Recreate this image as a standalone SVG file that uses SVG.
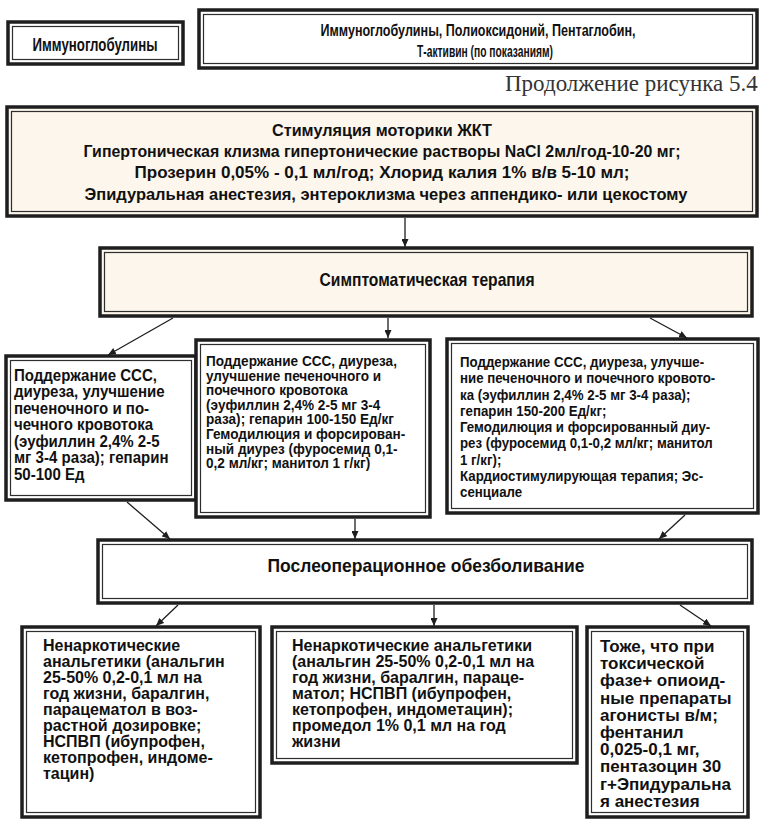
<svg xmlns="http://www.w3.org/2000/svg" width="765" height="819" viewBox="0 0 765 819">
<style>
.ob{fill:#fff;stroke:#1e1e1e;stroke-width:3.5}
.obc{fill:#fcf6ec;stroke:#1e1e1e;stroke-width:3.5}
.ib{fill:none;stroke:#2e2e2e;stroke-width:1.2}
.t{font-family:"Liberation Sans",Arial,sans-serif;font-weight:bold;fill:#111}
.tc{text-anchor:middle}
.cap{font-family:"Liberation Serif","Times New Roman",serif;font-size:23px;fill:#333}
.conn line{stroke:#1e1e1e;stroke-width:1.3;marker-end:url(#ah)}
</style>
<defs>
<marker id="ah" markerUnits="userSpaceOnUse" markerWidth="9" markerHeight="7" refX="8" refY="3.5" orient="auto">
<path d="M0,0 L8,3.5 L0,7 z" fill="#1e1e1e"/>
</marker>
<clipPath id="capclip"><rect x="480" y="76" width="300" height="30"/></clipPath>
</defs>
<rect width="765" height="819" fill="#fff"/>

<g id="node-immuno">
<rect class="ob" x="8" y="22" width="175" height="42"/>
<rect class="ib" x="12.5" y="26.5" width="166" height="33"/>
<text class="t tc" x="95" y="50.5" font-size="18.5" textLength="125" lengthAdjust="spacingAndGlyphs">Иммуноглобулины</text>
</g>

<g id="node-immuno2">
<rect class="ob" x="199" y="10" width="558" height="58"/>
<rect class="ib" x="203.5" y="14.5" width="549" height="49"/>
<text class="t tc" x="478" y="36" font-size="17" textLength="315" lengthAdjust="spacingAndGlyphs">Иммуноглобулины, Полиоксидоний, Пентаглобин,</text>
<text class="t tc" x="485" y="57" font-size="17" textLength="136" lengthAdjust="spacingAndGlyphs">Т-активин (по показаниям)</text>
</g>

<text class="cap" x="505" y="91" clip-path="url(#capclip)">Продолжение рисунка 5.4</text>

<g id="node-motor">
<rect class="obc" x="7" y="107" width="750" height="109"/>
<rect class="ib" x="11.5" y="111.5" width="741" height="100"/>
<text class="t tc" x="382" y="136" font-size="17" textLength="220" lengthAdjust="spacingAndGlyphs">Стимуляция моторики ЖКТ</text>
<text class="t tc" x="382" y="157" font-size="17" textLength="597" lengthAdjust="spacingAndGlyphs">Гипертоническая клизма гипертонические растворы NaCl 2мл/год-10-20 мг;</text>
<text class="t tc" x="382" y="178" font-size="17" textLength="495" lengthAdjust="spacingAndGlyphs">Прозерин 0,05% - 0,1 мл/год; Хлорид калия 1% в/в 5-10 мл;</text>
<text class="t tc" x="386" y="200" font-size="17" textLength="603" lengthAdjust="spacingAndGlyphs">Эпидуральная анестезия, энтероклизма через аппендико- или цекостому</text>
</g>

<g id="node-sympt">
<rect class="obc" x="100" y="248" width="652" height="68"/>
<rect class="ib" x="104.5" y="252.5" width="643" height="59"/>
<text class="t tc" x="427" y="286" font-size="18.5" textLength="215" lengthAdjust="spacingAndGlyphs">Симптоматическая терапия</text>
</g>

<g id="node-ccs1">
<rect class="ob" x="6" y="356" width="190" height="144"/>
<rect class="ib" x="10.5" y="360.5" width="181" height="135"/>
<text class="t" font-size="16" transform="translate(14,381) scale(0.94,1)">
<tspan x="0" dy="0">Поддержание ССС,</tspan>
<tspan x="0" dy="16.5">диуреза, улучшение</tspan>
<tspan x="0" dy="16.5">печеночного и по-</tspan>
<tspan x="0" dy="16.5">чечного кровотока</tspan>
<tspan x="0" dy="16.5">(эуфиллин 2,4% 2-5</tspan>
<tspan x="0" dy="16.5">мг 3-4 раза); гепарин</tspan>
<tspan x="0" dy="16.5">50-100 Ед</tspan>
</text>
</g>

<g id="node-ccs2">
<rect class="ob" x="196" y="340" width="234" height="177"/>
<rect class="ib" x="200.5" y="344.5" width="225" height="168"/>
<text class="t" font-size="14" transform="translate(206,366) scale(0.97,1)">
<tspan x="0" dy="0">Поддержание ССС, диуреза,</tspan>
<tspan x="0" dy="14.6">улучшение печеночного и</tspan>
<tspan x="0" dy="14.6">почечного кровотока</tspan>
<tspan x="0" dy="14.6">(эуфиллин 2,4% 2-5 мг 3-4</tspan>
<tspan x="0" dy="14.6">раза); гепарин 100-150 Ед/кг</tspan>
<tspan x="0" dy="14.6">Гемодилюция и форсирован-</tspan>
<tspan x="0" dy="14.6">ный диурез (фуросемид 0,1-</tspan>
<tspan x="0" dy="14.6">0,2 мл/кг; манитол 1 г/кг)</tspan>
</text>
</g>

<g id="node-ccs3">
<rect class="ob" x="447" y="339" width="311" height="174"/>
<rect class="ib" x="451.5" y="343.5" width="302" height="165"/>
<text class="t" font-size="14" transform="translate(460,367) scale(0.95,1)">
<tspan x="0" dy="0">Поддержание ССС, диуреза, улучше-</tspan>
<tspan x="0" dy="16.3">ние печеночного и почечного кровото-</tspan>
<tspan x="0" dy="16.3">ка (эуфиллин 2,4% 2-5 мг 3-4 раза);</tspan>
<tspan x="0" dy="16.3">гепарин 150-200 Ед/кг;</tspan>
<tspan x="0" dy="16.3">Гемодилюция и форсированный диу-</tspan>
<tspan x="0" dy="16.3">рез (фуросемид 0,1-0,2 мл/кг; манитол</tspan>
<tspan x="0" dy="16.3">1 г/кг);</tspan>
<tspan x="0" dy="16.3">Кардиостимулирующая терапия; Эс-</tspan>
<tspan x="0" dy="16.3">сенциале</tspan>
</text>
</g>

<g id="node-pain">
<rect class="ob" x="98" y="540" width="654" height="63"/>
<rect class="ib" x="102.5" y="544.5" width="645" height="54"/>
<text class="t tc" x="426" y="572" font-size="18.5" textLength="317" lengthAdjust="spacingAndGlyphs">Послеоперационное обезболивание</text>
</g>

<g id="node-nonnarc1">
<rect class="ob" x="22" y="627" width="238" height="190"/>
<rect class="ib" x="26.5" y="631.5" width="229" height="181"/>
<text class="t" font-size="16">
<tspan x="43" y="651">Ненаркотические</tspan>
<tspan x="43" dy="16">анальгетики (анальгин</tspan>
<tspan x="43" dy="16">25-50% 0,2-0,1 мл на</tspan>
<tspan x="43" dy="16">год жизни, баралгин,</tspan>
<tspan x="43" dy="16">парацематол в воз-</tspan>
<tspan x="43" dy="16">растной дозировке;</tspan>
<tspan x="43" dy="16">НСПВП (ибупрофен,</tspan>
<tspan x="43" dy="16">кетопрофен, индоме-</tspan>
<tspan x="43" dy="16">тацин)</tspan>
</text>
</g>

<g id="node-nonnarc2">
<rect class="ob" x="272" y="627" width="305" height="136"/>
<rect class="ib" x="276.5" y="631.5" width="296" height="127"/>
<text class="t" font-size="16">
<tspan x="292" y="651">Ненаркотические анальгетики</tspan>
<tspan x="292" dy="16">(анальгин 25-50% 0,2-0,1 мл на</tspan>
<tspan x="292" dy="16">год жизни, баралгин, параце-</tspan>
<tspan x="292" dy="16">матол; НСПВП (ибупрофен,</tspan>
<tspan x="292" dy="16">кетопрофен, индометацин);</tspan>
<tspan x="292" dy="16">промедол 1% 0,1 мл на год</tspan>
<tspan x="292" dy="16">жизни</tspan>
</text>
</g>

<g id="node-opioid">
<rect class="ob" x="587" y="627" width="161" height="190"/>
<rect class="ib" x="591.5" y="631.5" width="152" height="181"/>
<text class="t" font-size="17">
<tspan x="600" y="652">Тоже, что при</tspan>
<tspan x="600" dy="17.2">токсической</tspan>
<tspan x="600" dy="17.2">фазе+ опиоид-</tspan>
<tspan x="600" dy="17.2">ные препараты</tspan>
<tspan x="600" dy="17.2">агонисты в/м;</tspan>
<tspan x="600" dy="17.2">фентанил</tspan>
<tspan x="600" dy="17.2">0,025-0,1 мг,</tspan>
<tspan x="600" dy="17.2">пентазоцин 30</tspan>
<tspan x="600" dy="17.2">г+Эпидуральна</tspan>
<tspan x="600" dy="17.2">я анестезия</tspan>
</text>
</g>

<g id="connectors" class="conn">
<line x1="405" y1="218" x2="405" y2="247"/>
<line x1="173" y1="318" x2="108" y2="355"/>
<line x1="388" y1="318" x2="388" y2="338"/>
<line x1="650" y1="318" x2="687" y2="338"/>
<line x1="127" y1="502" x2="170" y2="539"/>
<line x1="355" y1="519" x2="355" y2="539"/>
<line x1="685" y1="515" x2="659" y2="539"/>
<line x1="178" y1="605" x2="156" y2="626"/>
<line x1="434" y1="605" x2="434" y2="626"/>
<line x1="680" y1="605" x2="711" y2="626"/>
</g>
</svg>
